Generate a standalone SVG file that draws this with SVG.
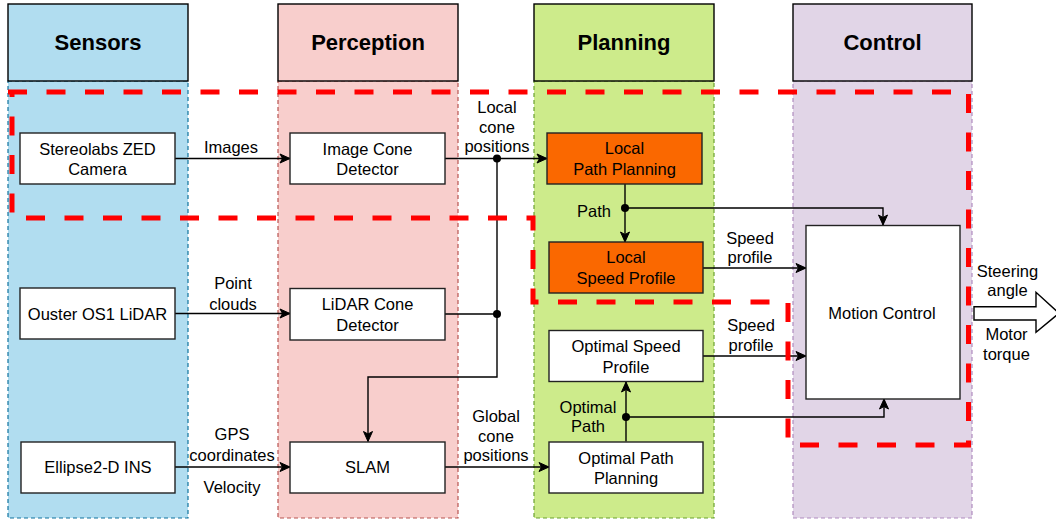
<svg xmlns="http://www.w3.org/2000/svg" width="1056" height="519" viewBox="0 0 1056 519">
  <style>
    text { font-family: "Liberation Sans", Arial, Helvetica, sans-serif; font-size: 16.5px; fill: #000; text-anchor: middle; }
    .hdr { font-size: 22px; font-weight: bold; }
    .head { stroke: #000; stroke-width: 1.4; }
    .lane { stroke-width: 1.2; stroke-dasharray: 4 3; }
    .box { fill: #fff; stroke: #222; stroke-width: 1.4; }
    .hot { fill: #fa6800; stroke: #222; stroke-width: 1.4; }
    .wire { fill: none; stroke: #000; stroke-width: 1.4; }
    .arr { marker-end: url(#tip); }
    .dot { fill: #000; }
    .zone { fill: none; stroke: #ff0000; stroke-width: 5; stroke-dasharray: 19 19.5; }
  </style>
  <defs>
    <marker id="tip" markerUnits="userSpaceOnUse" markerWidth="12" markerHeight="12" viewBox="0 0 12 12" refX="11" refY="6" orient="auto">
      <path d="M1,1.5 L11,6 L1,10.5 L3.5,6 Z" fill="#000" stroke="#000" stroke-width="1"/>
    </marker>
  </defs>

  <!-- swimlanes -->
  <g id="lane-sensors">
    <rect x="8" y="81" width="180" height="437" fill="#b1ddf0" stroke="#10739e" class="lane"/>
    <rect x="8" y="4" width="180" height="77" fill="#b1ddf0" class="head"/>
    <text x="98" y="50" class="hdr">Sensors</text>
  </g>
  <g id="lane-perception">
    <rect x="278" y="81" width="180" height="437" fill="#f8cecc" stroke="#b85450" class="lane"/>
    <rect x="278" y="4" width="180" height="77" fill="#f8cecc" class="head"/>
    <text x="368" y="50" class="hdr">Perception</text>
  </g>
  <g id="lane-planning">
    <rect x="534" y="81" width="180" height="437" fill="#cdeb8b" stroke="#6aa130" class="lane"/>
    <rect x="534" y="4" width="180" height="77" fill="#cdeb8b" class="head"/>
    <text x="624" y="50" class="hdr">Planning</text>
  </g>
  <g id="lane-control">
    <rect x="793" y="81" width="179" height="437" fill="#e1d5e7" stroke="#b08cbf" class="lane"/>
    <rect x="793" y="4" width="179" height="77" fill="#e1d5e7" class="head"/>
    <text x="882.5" y="50" class="hdr">Control</text>
  </g>

  <!-- connectors -->
  <g id="connectors">
    <path class="wire arr" d="M175,158.5 H290"/>
    <path class="wire arr" d="M175,313.5 H290"/>
    <path class="wire arr" d="M175,467 H290"/>
    <path class="wire arr" d="M445,158.5 H547"/>
    <path class="wire" d="M445,314 H497"/>
    <path class="wire arr" d="M497,158.5 V377 H368 V441.5"/>
    <path class="wire arr" d="M445,467 H549"/>
    <path class="wire arr" d="M625,184 V242"/>
    <path class="wire arr" d="M625,208 H883 V225"/>
    <path class="wire arr" d="M703,268 H806"/>
    <path class="wire arr" d="M703,356 H806"/>
    <path class="wire arr" d="M626,441.5 V382"/>
    <path class="wire arr" d="M626,417 H884 V399"/>
    <circle class="dot" cx="497" cy="158.5" r="4"/>
    <circle class="dot" cx="497" cy="314" r="4"/>
    <circle class="dot" cx="625" cy="208" r="4"/>
    <circle class="dot" cx="626" cy="417" r="4"/>
    <!-- output block arrow -->
    <path d="M974,306.7 H1036 V292.3 L1059,313.3 L1036,332.3 V320 H974 Z" fill="#fff" stroke="#000" stroke-width="1.4"/>

    <text x="231" y="153">Images</text>
    <text x="233" y="289">Point</text>
    <text x="233" y="310">clouds</text>
    <text x="232" y="440">GPS</text>
    <text x="232" y="461">coordinates</text>
    <text x="232" y="493">Velocity</text>
    <text x="497" y="113">Local</text>
    <text x="497" y="133">cone</text>
    <text x="497" y="152">positions</text>
    <text x="496" y="421.5">Global</text>
    <text x="496" y="441.5">cone</text>
    <text x="496" y="461">positions</text>
    <text x="594" y="216.5">Path</text>
    <text x="750" y="243.5">Speed</text>
    <text x="750" y="263">profile</text>
    <text x="751" y="331">Speed</text>
    <text x="751" y="350.5">profile</text>
    <text x="588" y="412.5">Optimal</text>
    <text x="588" y="432">Path</text>
    <text x="1007.5" y="276.5">Steering</text>
    <text x="1007.5" y="296">angle</text>
    <text x="1006.5" y="340">Motor</text>
    <text x="1006.5" y="359.5">torque</text>
  </g>

  <!-- processing blocks -->
  <g id="node-zed">
    <rect class="box" x="20" y="133" width="155" height="51"/>
    <text x="97.5" y="154.5">Stereolabs ZED</text>
    <text x="97.5" y="175">Camera</text>
  </g>
  <g id="node-ouster">
    <rect class="box" x="20" y="288" width="155" height="51"/>
    <text x="97.5" y="319.5">Ouster OS1 LiDAR</text>
  </g>
  <g id="node-ins">
    <rect class="box" x="21" y="442" width="154" height="51"/>
    <text x="98" y="473">Ellipse2-D INS</text>
  </g>
  <g id="node-image-cone">
    <rect class="box" x="290" y="133" width="155" height="51"/>
    <text x="367.5" y="154.5">Image Cone</text>
    <text x="367.5" y="175">Detector</text>
  </g>
  <g id="node-lidar-cone">
    <rect class="box" x="290" y="288.5" width="155" height="51.5"/>
    <text x="367.5" y="310">LiDAR Cone</text>
    <text x="367.5" y="330.5">Detector</text>
  </g>
  <g id="node-slam">
    <rect class="box" x="290" y="442" width="155" height="51"/>
    <text x="367.5" y="473">SLAM</text>
  </g>
  <g id="node-local-path">
    <rect class="hot" x="547" y="133" width="155" height="51"/>
    <text x="624.5" y="154">Local</text>
    <text x="624.5" y="175">Path Planning</text>
  </g>
  <g id="node-local-speed">
    <rect class="hot" x="549" y="242" width="154" height="51"/>
    <text x="626" y="263">Local</text>
    <text x="626" y="284">Speed Profile</text>
  </g>
  <g id="node-optimal-speed">
    <rect class="box" x="549" y="330.5" width="154" height="51"/>
    <text x="626" y="352">Optimal Speed</text>
    <text x="626" y="372.5">Profile</text>
  </g>
  <g id="node-optimal-path">
    <rect class="box" x="549" y="442" width="154" height="51"/>
    <text x="626" y="463.5">Optimal Path</text>
    <text x="626" y="484">Planning</text>
  </g>
  <g id="node-motion-control">
    <rect class="box" x="806" y="225.5" width="154" height="173.5"/>
    <text x="882" y="319">Motion Control</text>
  </g>

  <!-- highlighted sub-pipeline outline -->
  <path class="zone" d="M8,92 H968.5 V445 H788 V302 H533 V218 H12 V92"/>
</svg>
